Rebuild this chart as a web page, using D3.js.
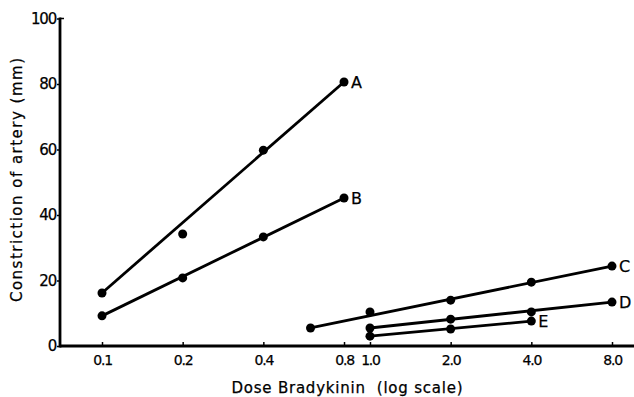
<!DOCTYPE html>
<html>
<head>
<meta charset="utf-8">
<script src="https://cdn.jsdelivr.net/npm/d3@7"></script>
<style>
  body { margin: 0; background: #fff; }
  svg { display: block; }
  text { font-family: "DejaVu Sans", "Liberation Sans", sans-serif; fill: #000; stroke: #000; stroke-width: 0.25px; }
</style>
</head>
<body>
<div id="chart"></div>
<script>
// dose values (log axis) and constriction readings (mm)
const xTicks = [0.1, 0.2, 0.4, 0.8, 1.0, 2.0, 4.0, 8.0];
const yTicks = [0, 20, 40, 60, 80, 100];

const doseA = [0.1, 0.2, 0.4, 0.8];
const valA = [16.2, 34.2, 59.8, 80.6];
const doseB = [0.1, 0.2, 0.4, 0.8];
const valB = [9.2, 20.8, 33.3, 45.2];
const doseC = [0.6, 1.0, 2.0, 4.0, 8.0];
const valC = [5.5, 10.4, 14.0, 19.5, 24.4];
const doseD = [1.0, 2.0, 4.0, 8.0];
const valD = [5.5, 8.2, 10.4, 13.4];
const doseE = [1.0, 2.0, 4.0];
const valE = [3.0, 5.2, 7.6];

const series = [
  { name: 'A', dose: doseA, val: valA },
  { name: 'B', dose: doseB, val: valB },
  { name: 'C', dose: doseC, val: valC },
  { name: 'D', dose: doseD, val: valD },
  { name: 'E', dose: doseE, val: valE }
];

const W = 634, H = 397;
const svg = d3.select('#chart').append('svg')
  .attr('width', W).attr('height', H);

const x = d3.scaleLog().domain([0.1, 8]).range([102, 612]);
const y = d3.scaleLinear().domain([0, 100]).range([346, 18.5]);
const axisX0 = 60;

// X axis
const gx = svg.append('g').attr('transform', `translate(0,${y(0)})`)
  .call(d3.axisBottom(x).tickValues(xTicks).tickFormat(d3.format('.1f'))
    .tickSizeInner(-4).tickSizeOuter(0).tickPadding(0));
gx.select('.domain').remove();
gx.selectAll('.tick line').attr('stroke', '#000').attr('stroke-width', 1.5);
gx.selectAll('.tick text').attr('font-size', 14).attr('dy', null).attr('y', 19)
  .style('letter-spacing', '-1.2px');
svg.append('line')
  .attr('x1', axisX0).attr('x2', W)
  .attr('y1', y(0)).attr('y2', y(0))
  .attr('stroke', '#000').attr('stroke-width', 2.8);

// Y axis
const gy = svg.append('g').attr('transform', `translate(${axisX0},0)`)
  .call(d3.axisLeft(y).tickValues(yTicks).tickSizeInner(3).tickSizeOuter(0).tickPadding(1));
gy.select('.domain').remove();
gy.selectAll('.tick line').attr('stroke', '#000').attr('stroke-width', 1.5);
gy.selectAll('.tick text').attr('font-size', 15).style('letter-spacing', '-1.2px');
svg.append('line')
  .attr('x1', axisX0).attr('x2', axisX0)
  .attr('y1', y(100) - 1).attr('y2', y(0) + 1.4)
  .attr('stroke', '#000').attr('stroke-width', 2.8);
svg.append('line')
  .attr('x1', axisX0).attr('x2', axisX0 + 4)
  .attr('y1', y(100)).attr('y2', y(100))
  .attr('stroke', '#000').attr('stroke-width', 1.5);

// lines from first to last reading, then the dots
series.forEach(s => {
  const n = s.dose.length - 1;
  svg.append('line')
    .attr('x1', x(s.dose[0])).attr('y1', y(s.val[0]))
    .attr('x2', x(s.dose[n])).attr('y2', y(s.val[n]))
    .attr('stroke', '#000').attr('stroke-width', 2.8);
  svg.selectAll(null).data(s.dose.map((d, i) => [d, s.val[i]]))
    .enter().append('circle')
    .attr('cx', d => x(d[0])).attr('cy', d => y(d[1]))
    .attr('r', 4.5).attr('fill', '#000');
  svg.append('text')
    .attr('x', x(s.dose[n]) + 7).attr('y', y(s.val[n]))
    .attr('dy', '0.35em')
    .attr('font-size', 16)
    .text(s.name);
});

// axis titles
svg.append('text')
  .attr('transform', `translate(22,180) rotate(-90)`)
  .attr('text-anchor', 'middle')
  .attr('font-size', 15)
  .attr('textLength', 244)
  .attr('lengthAdjust', 'spacing')
  .text('Constriction of artery (mm)');

svg.append('text')
  .attr('x', 347).attr('y', 393)
  .attr('text-anchor', 'middle')
  .attr('font-size', 15)
  .attr('textLength', 231)
  .attr('lengthAdjust', 'spacing')
  .attr('xml:space', 'preserve')
  .style('white-space', 'pre')
  .text('Dose Bradykinin  (log scale)');
</script>
</body>
</html>
